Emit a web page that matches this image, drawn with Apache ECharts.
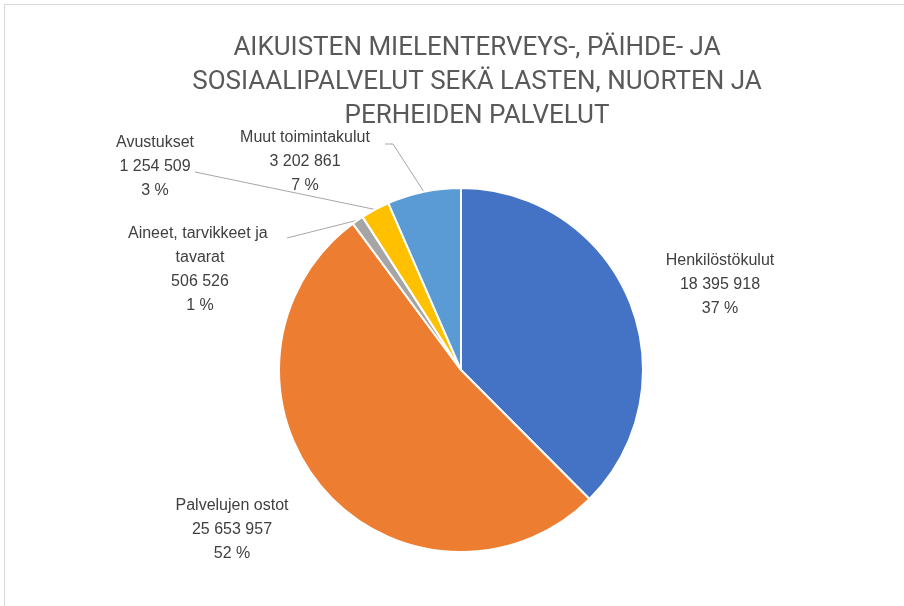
<!DOCTYPE html>
<html lang="fi">
<head>
    <meta charset="UTF-8">
    <title>Pie</title>
    <style>
        html, body { margin: 0; padding: 0; background: #fff; }
        .frame { position: absolute; left: 4px; top: 4px; width: 900px; height: 602px;
                 border-top: 1px solid #d9d9d9; border-left: 1px solid #d9d9d9; }
        .main { position: absolute; left: 0; top: 0; width: 904px; height: 606px; }
    </style>
</head>
<body>
<div class="frame"></div>
<div class="main"></div>
<script src="https://cdn.jsdelivr.net/npm/echarts@6/dist/echarts.min.js"></script>
<script>
    // data
    var categories = ['Henkilöstökulut', 'Palvelujen ostot', 'Aineet, tarvikkeet ja tavarat', 'Avustukset', 'Muut toimintakulut'];
    var values = [18395918, 25653957, 506526, 1254509, 3202861];
    var colors = ['#4472C4', '#ED7D31', '#A5A5A5', '#FFC000', '#5B9BD5'];

    // label centres and leader-line ends (layout only)
    var labelPos = [[720, 285], [232, 530], [200, 270], [155, 167], [305, 162]];
    var leaderEnd = [null, null, [[287, 238]], [[195, 172]], [[393, 144], [385, 144]]];

    function fmt(n) {
        return String(n).replace(/\B(?=(\d{3})+(?!\d))/g, ' ');
    }

    var main = document.querySelector('.main');
    var chart = echarts.init(main);

    var option = {
        animation: false,
        title: {
            text: 'AIKUISTEN MIELENTERVEYS-, PÄIHDE- JA\nSOSIAALIPALVELUT SEKÄ LASTEN, NUORTEN JA\nPERHEIDEN PALVELUT',
            left: 472,
            top: 26,
            textAlign: 'center',
            textStyle: {
                fontFamily: 'Roboto, sans-serif',
                fontSize: 26,
                fontWeight: 'normal',
                color: '#595959',
                lineHeight: 34
            }
        },
        series: [{
            type: 'pie',
            center: [461, 370],
            radius: 182,
            startAngle: 90,
            clockwise: true,
            percentPrecision: 0,
            itemStyle: { borderColor: '#fff', borderWidth: 2 },
            label: {
                show: true,
                position: 'outside',
                fontFamily: 'Liberation Sans, Arial, sans-serif',
                fontSize: 16,
                lineHeight: 24,
                color: '#404040',
                align: 'center',
                width: 180,
                overflow: 'break',
                formatter: function (p) {
                    return p.name + '\n' + fmt(p.value) + '\n' + p.percent + ' %';
                }
            },
            labelLine: {
                length: 10,
                length2: 10,
                lineStyle: { color: '#A6A6A6', width: 1 }
            },
            labelLayout: function (params) {
                var i = params.dataIndex;
                var pos = labelPos[i];
                var res = { x: pos[0], y: pos[1], align: 'center', verticalAlign: 'middle' };
                if (leaderEnd[i] && params.labelLinePoints) {
                    res.labelLinePoints = [params.labelLinePoints[0]].concat(leaderEnd[i]);
                }
                return res;
            },
            data: categories.map(function (c, i) {
                return {
                    name: c,
                    value: values[i],
                    itemStyle: { color: colors[i] },
                    labelLine: { show: !!leaderEnd[i] }
                };
            })
        }]
    };
    chart.setOption(option);
</script>
</body>
</html>
